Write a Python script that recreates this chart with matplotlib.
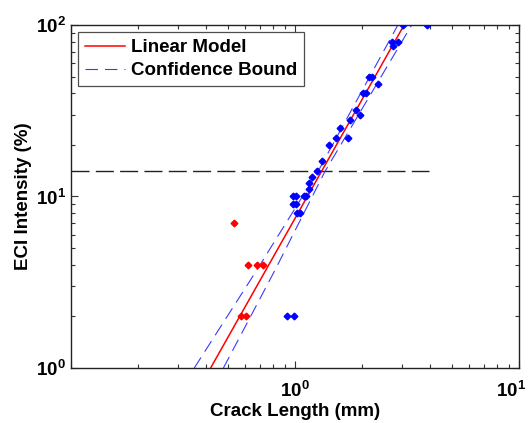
import numpy as np
import matplotlib
matplotlib.use('Agg')
import matplotlib.pyplot as plt
import matplotlib.transforms as mtransforms
from matplotlib.ticker import FixedLocator, FixedFormatter, LogLocator, NullFormatter

plt.rcParams['font.family'] = ['Liberation Sans', 'DejaVu Sans']
plt.rcParams['font.weight'] = 'bold'
plt.rcParams['mathtext.fontset'] = 'custom'
plt.rcParams['mathtext.bf'] = 'Liberation Sans:bold'
plt.rcParams['mathtext.rm'] = 'Liberation Sans:bold'
plt.rcParams['lines.scale_dashes'] = False

# measured points, crack length (mm) vs ECI intensity (%)
red_x = [0.536, 0.615, 0.675, 0.722, 0.573, 0.604]
red_y = [7, 4, 4, 4, 2, 2]

blue_x = [0.924, 0.99, 0.983, 1.01, 1.097, 1.12, 0.983, 1.01, 1.018, 1.05,
          1.15, 1.16, 1.195, 1.25, 1.324, 1.42, 1.524, 1.72, 1.588, 1.76,
          1.87, 1.95, 2.02, 2.07, 2.15, 2.2, 2.34, 2.70, 2.89, 2.75, 3.03, 3.9]
blue_y = [2, 2, 10, 10, 10, 10, 9, 9, 8, 8,
          11, 12, 13, 14, 16, 20, 22, 22, 25, 28,
          32, 30, 40, 40, 50, 50, 45, 80, 80, 75, 100, 100]

# fitted model and its confidence bounds
fit_x = [0.42, 3.07]
fit_y = [1, 100]
lo_x = [0.355, 0.675, 1.267, 2.88]
hi_x = [0.479, 0.814, 1.361, 3.32]
bound_y = [1, 3.72, 14, 100]

threshold = 14
thr_x = [0.1, 3.95]

fs = 13.5

fig = plt.figure(figsize=(5.31, 4.23), dpi=100)
ax = fig.add_axes([0.1337, 0.130, 0.8437, 0.811])

ax.plot(fit_x, fit_y, color='red', lw=1.1, label='Linear Model', zorder=3)
ax.plot(lo_x, bound_y, color='#3a3aff', lw=0.8, dashes=(9, 5),
        label='Confidence Bound', zorder=2)
ax.plot(hi_x, bound_y, color='#3a3aff', lw=0.8, dashes=(9, 5), zorder=2)
ax.plot(thr_x, [threshold, threshold], color='#222222', lw=1.0, dashes=(13, 4.5), zorder=1)

ax.plot(red_x, red_y, 'D', color='red', ms=3.4, mec='red', zorder=4)
ax.plot(blue_x, blue_y, 'D', color='blue', ms=3.4, mec='blue', zorder=4)

ax.set_xscale('log')
ax.set_yscale('log')
ax.set_xlim(0.1, 10)
ax.set_ylim(1, 100)

ax.xaxis.set_major_locator(FixedLocator([0.1, 1, 10]))
ax.xaxis.set_major_formatter(FixedFormatter(['', r'$\mathbf{10^{0}}$', r'$\mathbf{10^{1}}$']))
ax.yaxis.set_major_locator(FixedLocator([1, 10, 100]))
ax.yaxis.set_major_formatter(FixedFormatter([r'$\mathbf{10^{0}}$', r'$\mathbf{10^{1}}$',
                                             r'$\mathbf{10^{2}}$']))
for a in (ax.xaxis, ax.yaxis):
    a.set_minor_locator(LogLocator(base=10, subs=np.arange(2, 10)))
    a.set_minor_formatter(NullFormatter())

ax.tick_params(which='both', direction='in', top=True, right=True,
               labelsize=fs, colors='#333333', labelcolor='black', width=0.8)
ax.tick_params(which='major', length=5)
ax.tick_params(which='minor', length=3)
ax.tick_params(axis='x', pad=9)
for s in ax.spines.values():
    s.set_color('#222222')
    s.set_linewidth(1.0)

# keep the right-hand x label inside the figure
shift = mtransforms.ScaledTranslation(-6 / 72, 0, fig.dpi_scale_trans)
last = ax.xaxis.get_major_ticks()[-1]
last.label1.set_transform(last.label1.get_transform() + shift)

ax.set_xlabel('Crack Length (mm)', fontsize=fs, fontweight='bold', labelpad=2)
ax.set_ylabel('ECI Intensity (%)', fontsize=fs, fontweight='bold', labelpad=3)

leg = ax.legend(loc='upper left', fontsize=fs, frameon=True, fancybox=False,
                edgecolor='#222222', handlelength=2.15, handletextpad=0.3,
                borderpad=0.35, labelspacing=0.33, borderaxespad=0.4)
leg.get_frame().set_linewidth(0.9)

fig.savefig('out.png', dpi=100)
